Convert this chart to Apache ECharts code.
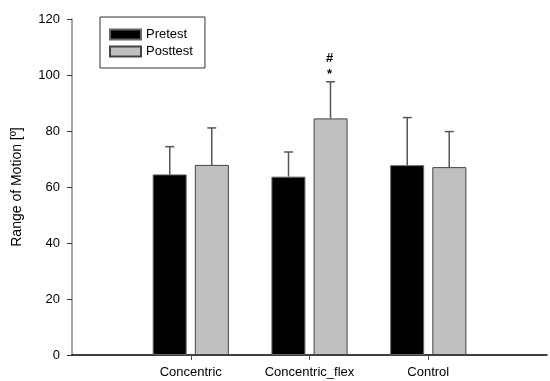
<!DOCTYPE html>
<html>
<head>
<meta charset="utf-8">
<script src="https://cdn.jsdelivr.net/npm/echarts@6/dist/echarts.min.js"></script>
<style>
html,body{margin:0;padding:0;background:#fff;}
#chart{width:550px;height:381px;}
</style>
</head>
<body>
<div id="chart"></div>
<script>
const categories = ['Concentric', 'Concentric_flex', 'Control'];
const pretest = [64.5, 63.7, 67.8];
const pretestSD = [9.9, 8.8, 17.0];
const posttest = [67.9, 84.5, 67.1];
const posttestSD = [13.2, 13.1, 12.7];
const annotations = ['', '#\n*', ''];
const yTicks = [0, 20, 40, 60, 80, 100, 120];

const FONT = '"Liberation Sans", Arial, sans-serif';
const axisCats = [''].concat(categories, ['']);
const pad = arr => [null].concat(arr, [null]);

const chart = echarts.init(document.getElementById('chart'));

function errSeries(vals, sds, offset, notes) {
  const data = vals.map((v, i) => [i + 1, v, v + sds[i], notes ? notes[i] : '']);
  return {
    type: 'custom',
    silent: true,
    z: 1,
    encode: { x: 0, y: 2 },
    data: data,
    renderItem: function (params, api) {
      const base = api.coord([api.value(0), api.value(1)]);
      const top = api.coord([api.value(0), api.value(2)]);
      const x = base[0] + offset;
      const children = [
        { type: 'line', shape: { x1: x, y1: base[1], x2: x, y2: top[1] },
          style: { stroke: '#555', lineWidth: 1.5 } },
        { type: 'line', shape: { x1: x - 4.5, y1: top[1], x2: x + 4.5, y2: top[1] },
          style: { stroke: '#555', lineWidth: 1.5 } }
      ];
      const note = data[params.dataIndex][3];
      if (note) {
        const parts = note.split('\n');
        children.push({ type: 'text', style: { text: parts[0], x: x - 1, y: top[1] - 23,
          align: 'center', verticalAlign: 'middle', font: 'bold 13px ' + FONT, fill: '#000' } });
        children.push({ type: 'text', style: { text: parts[1], x: x - 1, y: top[1] - 7,
          align: 'center', verticalAlign: 'middle', font: 'bold 13px ' + FONT, fill: '#000' } });
      }
      return { type: 'group', children: children };
    }
  };
}

chart.setOption({
  animation: false,
  backgroundColor: '#fff',
  textStyle: { fontFamily: FONT },
  grid: { left: 72, right: -2, top: 19, bottom: 26 },
  legend: {
    orient: 'vertical',
    left: 100, top: 17,
    padding: [11, 12, 10, 9],
    icon: 'rect',
    itemWidth: 31, itemHeight: 10, itemGap: 4,
    borderColor: '#333', borderWidth: 1,
    textStyle: { fontSize: 13, color: '#000', fontFamily: FONT },
    data: ['Pretest', 'Posttest']
  },
  xAxis: {
    type: 'category',
    data: axisCats,
    boundaryGap: false,
    axisLine: { lineStyle: { color: '#000', width: 1.5 } },
    axisTick: { length: 5, lineStyle: { color: '#555' }, interval: (i, v) => v !== '' },
    axisLabel: { color: '#000', fontSize: 13, margin: 11, fontFamily: FONT, interval: 0 },
    splitLine: { show: false }
  },
  yAxis: {
    type: 'value',
    min: yTicks[0], max: yTicks[yTicks.length - 1], interval: 20,
    name: 'Range of Motion [º]',
    nameLocation: 'middle', nameGap: 48,
    nameTextStyle: { fontSize: 14, color: '#000', fontFamily: FONT },
    axisLine: { show: true, lineStyle: { color: '#888', width: 1.5 } },
    axisTick: { show: true, length: 5, lineStyle: { color: '#333' } },
    axisLabel: { color: '#000', fontSize: 13, margin: 12, fontFamily: FONT },
    splitLine: { show: false }
  },
  series: [
    { name: 'Pretest', type: 'bar', data: pad(pretest), barWidth: 34, barGap: '24%', z: 2,
      itemStyle: { color: '#000', borderColor: '#666', borderWidth: 1 } },
    { name: 'Posttest', type: 'bar', data: pad(posttest), barWidth: 34, z: 2,
      itemStyle: { color: '#c0c0c0', borderColor: '#444', borderWidth: 1 } },
    errSeries(pretest, pretestSD, -21, null),
    errSeries(posttest, posttestSD, 21, annotations)
  ]
});
</script>
</body>
</html>
